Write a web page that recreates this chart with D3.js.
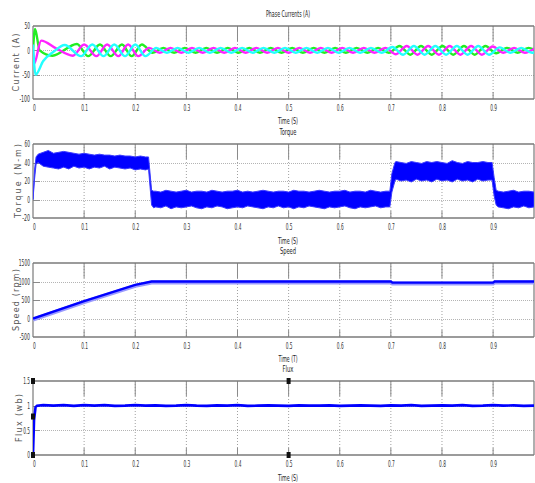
<!DOCTYPE html>
<html><head><meta charset="utf-8">
<script src="https://cdn.jsdelivr.net/npm/d3@7"></script>
<style>
html,body{margin:0;padding:0;background:#fff;}
svg{display:block;background:#fff;}
</style></head><body><svg id="c" width="535" height="483"></svg>
<script>
// ---------------- DATA ----------------
const timeTicks = [0, 0.1, 0.2, 0.3, 0.4, 0.5, 0.6, 0.7, 0.8, 0.9];
const timeTickLabels = ["0", "0.1", "0.2", "0.3", "0.4", "0.5", "0.6", "0.7", "0.8", "0.9"];
const currentTicks = [50, 0, -50, -100];
const torqueTicks = [60, 40, 20, 0, -20];
const speedTicks = [1500, 1000, 500, 0, -500];
const fluxTicks = [1.5, 1, 0.5, 0];
const fluxTickLabels = ["1.5", "1", "0.5", "0"];

const panelTitles = ["Phase Currents (A)", "Torque", "Speed", "Flux"];
const xAxisTitles = ["Time (S)", "Time (S)", "Time (T)", "Time (S)"];
const yAxisTitles = ["Current (A)", "Torque (N-m)", "Speed (rpm)", "Flux (wb)"];

// phase currents: [time, value] at the visible peaks / troughs
const phaseA = [[0,0],[0.004,44],[0.013,0],[0.038,-11],[0.086,13],[0.108,-12],[0.131,12],[0.152,-12],[0.174,12],[0.193,-12],[0.213,12],
 [0.234,-5],[0.255,5],[0.276,-5],[0.297,5],[0.318,-5],[0.339,5],[0.360,-5],[0.381,5],[0.402,-5],[0.423,5],[0.444,-5],[0.465,5],[0.486,-5],[0.507,5],[0.528,-5],[0.549,5],[0.570,-5],[0.591,5],[0.612,-5],[0.633,5],[0.654,-5],[0.675,5],[0.696,-5],
 [0.717,9],[0.738,-9],[0.759,9],[0.780,-9],[0.801,9],[0.822,-9],[0.843,9],[0.864,-9],[0.885,9],[0.906,-6],[0.927,5],[0.948,-5],[0.969,5],[0.990,-5]];
const phaseB = [[0,0],[0.002,-28],[0.016,20],[0.045,4],[0.078,-11],[0.100,12],[0.124,-12],[0.145,12],[0.167,-12],[0.186,12],[0.206,-12],
 [0.227,5],[0.248,-5],[0.269,5],[0.290,-5],[0.311,5],[0.332,-5],[0.353,5],[0.374,-5],[0.395,5],[0.416,-5],[0.437,5],[0.458,-5],[0.479,5],[0.500,-5],[0.521,5],[0.542,-5],[0.563,5],[0.584,-5],[0.605,5],[0.626,-5],[0.647,5],[0.668,-5],[0.689,5],
 [0.710,-8],[0.731,9],[0.752,-9],[0.773,9],[0.794,-9],[0.815,9],[0.836,-9],[0.857,9],[0.878,-9],[0.899,8],[0.920,-5],[0.941,5],[0.962,-5],[0.983,5]];
const phaseC = [[0,12],[0.005,-50],[0.02,-22],[0.04,-3],[0.062,11],[0.094,-12],[0.116,12],[0.138,-12],[0.159,12],[0.180,-12],[0.200,12],[0.220,-12],
 [0.241,5],[0.262,-5],[0.283,5],[0.304,-5],[0.325,5],[0.346,-5],[0.367,5],[0.388,-5],[0.409,5],[0.430,-5],[0.451,5],[0.472,-5],[0.493,5],[0.514,-5],[0.535,5],[0.556,-5],[0.577,5],[0.598,-5],[0.619,5],[0.640,-5],[0.661,5],[0.682,-5],
 [0.703,7],[0.724,-9],[0.745,9],[0.766,-9],[0.787,9],[0.808,-9],[0.829,9],[0.850,-9],[0.871,9],[0.892,-9],[0.913,6],[0.934,-5],[0.955,5],[0.976,-5],[0.997,5]];

// torque ripple band: [time, upper, lower]
const torqueBand = [[0,0,0],[0.003,32,22],[0.006,46,38],[0.01,49,40],[0.02,51,36],[0.03,53,35],[0.04,50,34],[0.05,51,33],[0.06,52,35],[0.07,51,33],[0.08,50,36],[0.09,49,34],[0.10,50,35],[0.11,49,33],[0.12,48,35],[0.13,49,34],[0.14,48,36],[0.15,48,33],[0.16,47,35],[0.17,48,34],[0.18,47,33],[0.19,47,34],[0.20,46,32],[0.21,47,33],[0.22,46,32],[0.226,46,33],[0.232,10,-6],[0.236,9,-9],
 [0.24,9,-8],[0.25,8,-9],[0.26,10,-7],[0.27,9,-10],[0.28,8,-8],[0.29,9,-9],[0.30,10,-8],[0.31,8,-7],[0.32,9,-9],[0.33,9,-10],[0.34,8,-8],[0.35,10,-9],[0.36,9,-7],[0.37,8,-8],[0.38,9,-10],[0.39,9,-9],[0.40,10,-8],[0.41,8,-9],[0.42,9,-7],[0.43,8,-8],[0.44,9,-9],[0.45,10,-10],[0.46,9,-8],[0.47,8,-9],[0.48,9,-7],[0.49,9,-9],[0.50,8,-8],[0.51,10,-10],[0.52,9,-8],[0.53,9,-9],[0.54,8,-7],[0.55,9,-8],[0.56,10,-9],[0.57,9,-10],[0.58,8,-8],[0.59,9,-9],[0.60,9,-8],[0.61,10,-7],[0.62,8,-9],[0.63,9,-10],[0.64,9,-8],[0.65,8,-9],[0.66,10,-8],[0.67,9,-7],[0.68,8,-9],[0.69,9,-8],
 [0.698,9,-8],[0.702,28,8],[0.708,40,20],
 [0.71,41,22],[0.72,40,20],[0.73,39,21],[0.74,41,19],[0.75,40,22],[0.76,39,20],[0.77,41,21],[0.78,40,19],[0.79,41,22],[0.80,40,20],[0.81,39,21],[0.82,42,19],[0.83,40,22],[0.84,39,20],[0.85,41,21],[0.86,40,19],[0.87,40,22],[0.88,41,20],[0.89,40,21],
 [0.898,40,21],[0.902,24,4],[0.906,10,-6],
 [0.91,9,-8],[0.92,8,-9],[0.93,9,-10],[0.94,10,-8],[0.95,8,-9],[0.96,9,-7],[0.97,9,-9],[0.98,8,-8]];

const speedData = [[0,0],[0.1,470],[0.2,910],[0.232,1000],[0.70,1000],[0.703,970],[0.90,970],[0.903,1000],[0.98,1000]];

const fluxData = [[0,0],[0.002,0.7],[0.005,0.97],[0.008,1.0],[0.02,1.01],[0.04,1.0],[0.06,1.01],[0.08,0.995],[0.10,1.01],[0.12,1.0],[0.14,1.01],[0.16,0.995],[0.18,1.0],[0.20,1.01],[0.22,1.0],[0.24,1.005],[0.26,0.995],[0.28,1.0],[0.30,1.01],[0.32,1.0],[0.34,0.995],[0.36,1.005],[0.38,1.0],[0.40,1.01],[0.42,0.995],[0.44,1.0],[0.46,1.005],[0.48,1.0],[0.50,0.995],[0.52,1.005],[0.54,1.0],[0.56,1.0],[0.58,1.005],[0.60,0.995],[0.62,1.0],[0.64,1.005],[0.66,1.0],[0.68,0.995],[0.70,1.005],[0.72,1.0],[0.74,1.01],[0.76,0.995],[0.78,1.0],[0.80,1.005],[0.82,1.0],[0.84,1.01],[0.86,0.995],[0.88,1.0],[0.90,1.01],[0.92,1.0],[0.94,1.005],[0.96,0.995],[0.98,1.0]];
const fluxMarkers = [[0,1.5],[0,0.78],[0,0],[0.5,1.5],[0.5,0]];

// ---------------- DRAW ----------------
const svg = d3.select("#c");
const NARROW = "'Liberation Sans Narrow','DejaVu Sans Condensed','Liberation Sans',sans-serif";
const x = d3.scaleLinear().domain([0, 0.98]).range([33, 534]);

const panels = [
  {top: 26, bottom: 99, domain: [-100, 50], ticks: currentTicks, labels: currentTicks.map(String), titleY: 17, timeY: 124},
  {top: 144, bottom: 218, domain: [-20, 60], ticks: torqueTicks, labels: torqueTicks.map(String), titleY: 134.5, timeY: 243.5},
  {top: 263, bottom: 337, domain: [-500, 1500], ticks: speedTicks, labels: speedTicks.map(String), titleY: 253.5, timeY: 362},
  {top: 381, bottom: 455, domain: [0, 1.5], ticks: fluxTicks, labels: fluxTickLabels, titleY: 372, timeY: 481}
];
const titleLen = [44, 17, 16, 11];
const timeLen = [20, 20, 19, 20];
const yTitleLen = [58, 74, 62, 48];
const yTitleX = [16, 18, 16, 19];

function labelWidth(s) {
  let w = 0;
  for (const c of s) w += (c === '.') ? 1.2 : (c === '-') ? 2.2 : 2.8;
  return w;
}

panels.forEach((p, i) => {
  const y = d3.scaleLinear().domain(p.domain).range([p.bottom, p.top]);
  p.y = y;
  svg.append("clipPath").attr("id", "clip" + i)
    .append("rect").attr("x", 33).attr("y", p.top).attr("width", 501).attr("height", p.bottom - p.top);

  const g = svg.append("g");
  g.selectAll("line.vg").data(timeTicks.filter(t => t > 0)).join("line")
    .attr("x1", d => x(d)).attr("x2", d => x(d)).attr("y1", p.top).attr("y2", p.bottom)
    .attr("stroke", "#a0a0a0").attr("stroke-width", 1).attr("stroke-dasharray", "1,2");
  const inner = p.ticks.filter(v => v > p.domain[0] && v < p.domain[1]);
  g.selectAll("line.hg").data(inner).join("line")
    .attr("x1", 33).attr("x2", 534).attr("y1", d => Math.round(y(d)) + 0.5).attr("y2", d => Math.round(y(d)) + 0.5)
    .attr("stroke", "#b4b4b4").attr("stroke-width", 1).attr("stroke-dasharray", "1,1");
  g.selectAll("line.tt").data(timeTicks.filter(t => t > 0)).join("line")
    .attr("x1", d => x(d)).attr("x2", d => x(d)).attr("y1", p.top).attr("y2", p.top + 15)
    .attr("stroke", "#8a8a8a").attr("stroke-width", 1);
  g.selectAll("line.tb").data(timeTicks.filter(t => t > 0)).join("line")
    .attr("x1", d => x(d)).attr("x2", d => x(d)).attr("y1", p.bottom - 7).attr("y2", p.bottom)
    .attr("stroke", "#8a8a8a").attr("stroke-width", 1);
  g.selectAll("line.yl").data(inner).join("line")
    .attr("x1", 33).attr("x2", 40).attr("y1", d => Math.round(y(d)) + 0.5).attr("y2", d => Math.round(y(d)) + 0.5)
    .attr("stroke", "#8a8a8a").attr("stroke-width", 1);
  g.append("line").attr("x1", 33).attr("x2", 534).attr("y1", p.top).attr("y2", p.top).attr("stroke", "#7a7a7a").attr("stroke-width", 1.6);
  g.append("line").attr("x1", 33).attr("x2", 534).attr("y1", p.bottom).attr("y2", p.bottom).attr("stroke", "#7a7a7a").attr("stroke-width", 1.6);
  g.append("line").attr("x1", 33).attr("x2", 33).attr("y1", p.top).attr("y2", p.bottom).attr("stroke", "#7a7a7a").attr("stroke-width", 1.2);
  g.append("line").attr("x1", 534).attr("x2", 534).attr("y1", p.top).attr("y2", p.bottom).attr("stroke", "#7a7a7a").attr("stroke-width", 1.2);

  // x axis labels
  const ax = svg.append("g").attr("transform", `translate(0,${p.bottom})`)
    .call(d3.axisBottom(x).tickValues(timeTicks).tickFormat((d, k) => timeTickLabels[k]).tickSize(0).tickPadding(6));
  ax.select(".domain").remove();
  ax.selectAll(".tick").filter(d => d === 0).attr("transform", `translate(${x(0) + 1.5},0)`);
  ax.selectAll("text").attr("font-family", NARROW).attr("font-size", 9).attr("fill", "#333")
    .attr("textLength", (d, k) => labelWidth(timeTickLabels[k])).attr("lengthAdjust", "spacingAndGlyphs");
  // y axis labels
  const ay = svg.append("g").attr("transform", `translate(33,0)`)
    .call(d3.axisLeft(y).tickValues(p.ticks).tickFormat((d, k) => p.labels[k]).tickSize(0).tickPadding(3));
  ay.select(".domain").remove();
  ay.selectAll("text").attr("font-family", NARROW).attr("font-size", 9).attr("fill", "#333")
    .attr("textLength", (d, k) => labelWidth(p.labels[k])).attr("lengthAdjust", "spacingAndGlyphs");

  // titles
  svg.append("text").attr("x", 288).attr("y", p.titleY).attr("text-anchor", "middle")
    .attr("font-family", NARROW).attr("font-size", 8.5).attr("fill", "#222")
    .attr("textLength", titleLen[i]).attr("lengthAdjust", "spacingAndGlyphs").text(panelTitles[i]);
  svg.append("text").attr("x", 288).attr("y", p.timeY).attr("text-anchor", "middle")
    .attr("font-family", NARROW).attr("font-size", 8.5).attr("fill", "#222")
    .attr("textLength", timeLen[i]).attr("lengthAdjust", "spacingAndGlyphs").text(xAxisTitles[i]);
  svg.append("text")
    .attr("transform", `translate(${yTitleX[i] + 3},${(p.top + p.bottom) / 2}) rotate(-90)`)
    .attr("text-anchor", "middle").attr("font-family", "'DejaVu Sans',sans-serif").attr("font-size", 8)
    .attr("fill", "#555").attr("textLength", yTitleLen[i]).attr("lengthAdjust", "spacing").text(yAxisTitles[i]);
});

// ---- panel 1: phase currents
{
  const p = panels[0];
  const line = d3.line().x(d => x(d[0])).y(d => p.y(d[1])).curve(d3.curveMonotoneX);
  const g = svg.append("g").attr("clip-path", "url(#clip0)");
  [[phaseA, "#22ee22"], [phaseB, "#ff22ff"], [phaseC, "#22ffff"]].forEach(([data, col]) => {
    g.append("path").attr("d", line(data)).attr("fill", "none").attr("stroke", col).attr("stroke-width", 2.4);
  });
}
// ---- panel 2: torque
{
  const p = panels[1];
  const area = d3.area().x(d => x(d[0])).y0(d => p.y(d[2])).y1(d => p.y(d[1]));
  const g = svg.append("g").attr("clip-path", "url(#clip1)");
  g.append("path").attr("d", area(torqueBand)).attr("fill", "#0000ff").attr("stroke", "#3a3aff").attr("stroke-width", 1);
}
// ---- panel 3: speed
{
  const p = panels[2];
  const line = d3.line().x(d => x(d[0])).y(d => p.y(d[1]));
  const g = svg.append("g").attr("clip-path", "url(#clip2)");
  g.append("path").attr("d", line(speedData)).attr("fill", "none").attr("stroke", "#9a9aff").attr("stroke-width", 4).attr("transform", "translate(0,1)");
  g.append("path").attr("d", line(speedData)).attr("fill", "none").attr("stroke", "#0000ff").attr("stroke-width", 2.4);
}
// ---- panel 4: flux
{
  const p = panels[3];
  const line = d3.line().x(d => x(d[0])).y(d => p.y(d[1]));
  const g = svg.append("g").attr("clip-path", "url(#clip3)");
  g.append("path").attr("d", line(fluxData)).attr("fill", "none").attr("stroke", "#0000ff").attr("stroke-width", 2.6);
  svg.append("g").selectAll("rect").data(fluxMarkers).join("rect")
    .attr("x", d => x(d[0]) - 2).attr("y", d => p.y(d[1]) - 3).attr("width", 4).attr("height", 6).attr("fill", "#111");
}
</script></body></html>
